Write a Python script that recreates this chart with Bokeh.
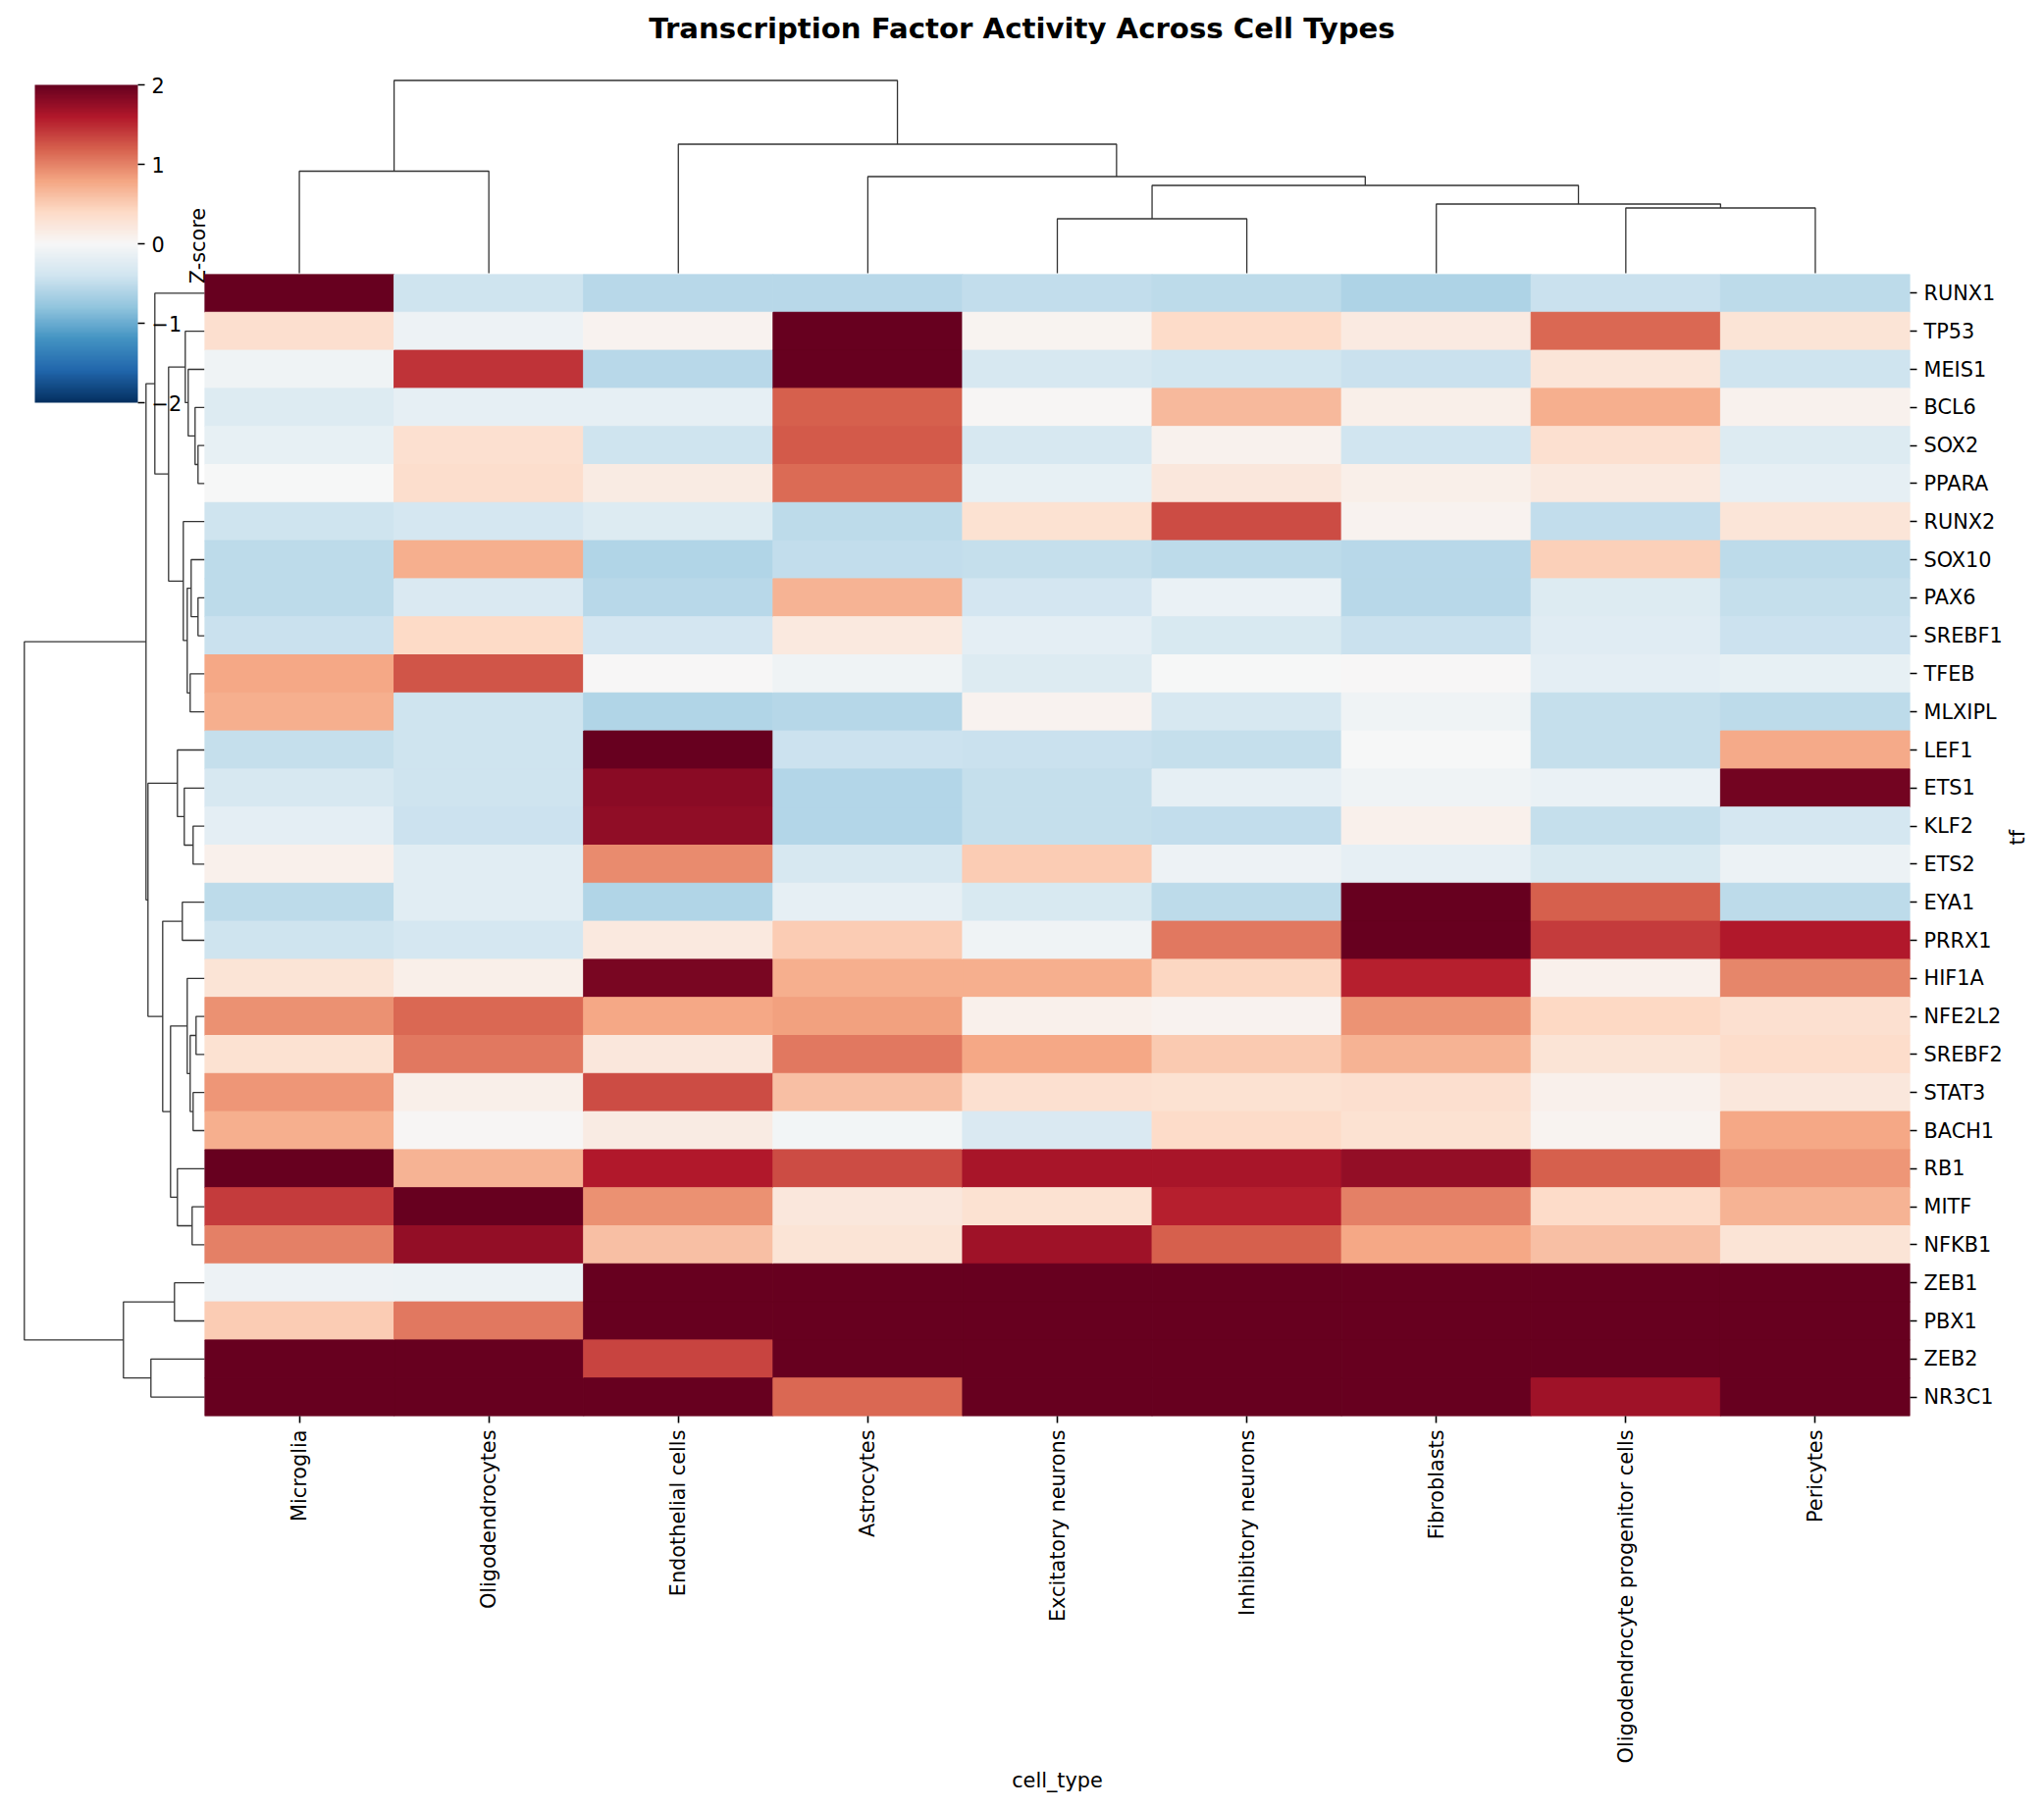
import math
import numpy as np
from bokeh.embed import file_html
from bokeh.resources import INLINE
from bokeh.plotting import figure
from bokeh.layouts import column
from bokeh.models import (ColumnDataSource, Range1d, FactorRange, FixedTicker, LinearColorMapper,
                          ColorBar, Label)
from bokeh.palettes import RdBu11
from bokeh.transform import transform

# ---------- data ----------
cell_types = ["Microglia", "Oligodendrocytes", "Endothelial cells", "Astrocytes", "Excitatory neurons",
              "Inhibitory neurons", "Fibroblasts", "Oligodendrocyte progenitor cells", "Pericytes"]
tfs = ["RUNX1", "TP53", "MEIS1", "BCL6", "SOX2", "PPARA", "RUNX2", "SOX10", "PAX6", "SREBF1", "TFEB", "MLXIPL",
       "LEF1", "ETS1", "KLF2", "ETS2", "EYA1", "PRRX1", "HIF1A", "NFE2L2", "SREBF2", "STAT3", "BACH1", "RB1",
       "MITF", "NFKB1", "ZEB1", "PBX1", "ZEB2", "NR3C1"]
microglia = [2.0, 0.33, -0.09, -0.27, -0.17, -0.01, -0.42, -0.53, -0.53, -0.45, 0.78, 0.72, -0.47, -0.33, -0.2, 0.1,
             -0.52, -0.42, 0.27, 0.92, 0.3, 0.88, 0.73, 2.0, 1.4, 1.0, -0.1, 0.5, 2.0, 2.0]
oligodendrocytes = [-0.42, -0.1, 1.45, -0.18, 0.32, 0.35, -0.35, 0.73, -0.3, 0.4, 1.25, -0.42, -0.42, -0.42, -0.43,
                    -0.22, -0.22, -0.35, 0.12, 1.15, 1.05, 0.12, 0.02, 0.7, 2.0, 1.75, -0.11, 1.05, 2.0, 2.0]
endothelial = [-0.55, 0.07, -0.55, -0.18, -0.42, 0.17, -0.28, -0.6, -0.55, -0.36, 0.0, -0.6, 2.0, 1.8, 1.77, 0.95,
               -0.6, 0.2, 1.9, 0.77, 0.22, 1.3, 0.17, 1.6, 0.92, 0.6, 2.0, 2.0, 1.35, 2.0]
astrocytes = [-0.55, 2.0, 2.0, 1.2, 1.22, 1.13, -0.53, -0.5, 0.7, 0.2, -0.08, -0.57, -0.43, -0.58, -0.58, -0.33,
              -0.18, 0.5, 0.72, 0.82, 1.05, 0.6, -0.05, 1.3, 0.22, 0.27, 2.0, 2.0, 2.0, 1.15]
excitatory = [-0.5, 0.06, -0.34, 0.03, -0.34, -0.16, 0.3, -0.48, -0.37, -0.2, -0.27, 0.07, -0.44, -0.48, -0.47, 0.5,
              -0.32, -0.08, 0.72, 0.1, 0.78, 0.32, -0.3, 1.65, 0.3, 1.7, 2.0, 2.0, 2.0, 2.0]
inhibitory = [-0.52, 0.38, -0.38, 0.65, 0.08, 0.22, 1.3, -0.52, -0.14, -0.32, -0.01, -0.34, -0.48, -0.18, -0.5, -0.1,
              -0.52, 1.05, 0.43, 0.07, 0.52, 0.3, 0.38, 1.65, 1.55, 1.2, 2.0, 2.0, 2.0, 2.0]
fibroblasts = [-0.62, 0.18, -0.45, 0.12, -0.4, 0.11, 0.07, -0.55, -0.55, -0.45, 0.01, -0.08, -0.01, -0.08, 0.1,
               -0.18, 2.0, 2.0, 1.55, 0.9, 0.7, 0.33, 0.3, 1.75, 1.0, 0.78, 2.0, 2.0, 2.0, 2.0]
opc = [-0.45, 1.15, 0.25, 0.72, 0.32, 0.2, -0.5, 0.47, -0.28, -0.25, -0.2, -0.47, -0.48, -0.14, -0.47, -0.32,
       1.2, 1.4, 0.1, 0.42, 0.27, 0.1, 0.06, 1.2, 0.38, 0.6, 2.0, 2.0, 2.0, 1.7]
pericytes = [-0.52, 0.28, -0.42, 0.08, -0.27, -0.18, 0.26, -0.53, -0.47, -0.43, -0.16, -0.52, 0.75, 1.93, -0.35, -0.11,
             -0.52, 1.6, 0.97, 0.32, 0.37, 0.22, 0.78, 0.88, 0.7, 0.27, 2.0, 2.0, 2.0, 2.0]
columns = [microglia, oligodendrocytes, endothelial, astrocytes, excitatory, inhibitory, fibroblasts, opc, pericytes]

# dendrogram links: (child, child, height); ids below the leaf count are leaves, others are earlier links
row_links = [(4, 5, 6.7), (8, 9, 6.7), (10, 11, 14.7), (14, 15, 11.7), (16, 17, 22.7), (19, 20, 8.7), (21, 22, 11.7),
             (24, 25, 12.7), (26, 27, 30.7), (28, 29, 54.7), (3, 30, 9.7), (2, 40, 16.7), (1, 41, 19.7), (7, 31, 13.7),
             (43, 32, 17.7), (6, 44, 21.7), (42, 45, 36.7), (0, 46, 50.7), (13, 33, 20.7), (12, 48, 27.7),
             (35, 36, 14.7), (18, 50, 17.7), (23, 37, 27.7), (51, 52, 34.7), (34, 53, 42.7), (49, 54, 57.7),
             (47, 55, 59.7), (38, 39, 82.7), (56, 57, 183.7)]
col_links = [(4, 5, 55.5), (7, 8, 66.5), (6, 10, 70.5), (9, 11, 89.5), (0, 1, 104.0), (3, 12, 98.5), (2, 14, 131.5),
             (13, 15, 196.5)]
colorbar_ticks = [-2, -1, 0, 1, 2]

# ---------- layout (page pixels of the reference) ----------
W, H = 2075, 1835
HM_L, HM_R, HM_T, HM_B = 208.0, 1946.0, 279.0, 1443.0
CB_L, CB_T, CB_W, CB_H = 35, 86, 105, 324
CB_PAD = 16
ROW_DENDRO_ZERO_PX, COL_DENDRO_ZERO_PX = 208.0, 278.0
FONT = "DejaVu Sans"
INK = "#000000"
LINK = "#333333"


def xr(v0, p0, v1, p1):
    m = (v1 - v0) / (p1 - p0)
    return Range1d(start=v0 - p0 * m, end=v0 + (W - p0) * m)


def yr(v0, p0, v1, p1):
    m = (v1 - v0) / (p1 - p0)
    return Range1d(start=v0 + (H - p0) * m, end=v0 - p0 * m)


def link_paths(links, n_leaves):
    pos, hgt = {i: i + 0.5 for i in range(n_leaves)}, {i: 0.0 for i in range(n_leaves)}
    along, across = [], []
    for k, (a, b, h) in enumerate(links):
        along.append([pos[a], pos[a], pos[b], pos[b]])
        across.append([hgt[a], h, h, hgt[b]])
        pos[n_leaves + k] = (pos[a] + pos[b]) / 2
        hgt[n_leaves + k] = h
    return along, across


# palette: matplotlib-style RdBu_r, interpolated from the 11 ColorBrewer anchors (blue first)
anchors = np.array([[int(c[i:i + 2], 16) for i in (1, 3, 5)] for c in RdBu11], dtype=float)
t = np.linspace(0, 10, 256)
palette = ["#%02x%02x%02x" % tuple(int(round(np.interp(v, np.arange(11), anchors[:, k]))) for k in range(3)) for v in t]
mapper = LinearColorMapper(palette=palette, low=-2, high=2)

# ---------- base canvas: dendrograms, title ----------
base = figure(frame_width=W, frame_height=H, output_backend="svg", toolbar_location=None,
              min_border_left=0, min_border_top=0, min_border_right=0, min_border_bottom=0,
              x_range=Range1d(0, W), y_range=Range1d(H, 0),
              styles={"position": "absolute", "left": "0px", "top": "0px"})
base.outline_line_color = None
base.xaxis.visible = False
base.yaxis.visible = False
base.grid.visible = False
base.extra_x_ranges = {
    "cols": xr(0, HM_L, len(cell_types), HM_R),
    "row_dendro": xr(0, ROW_DENDRO_ZERO_PX, 183.7, 24.3),
}
base.extra_y_ranges = {
    "rows": yr(0, HM_T, len(tfs), HM_B),
    "col_dendro": yr(0, COL_DENDRO_ZERO_PX, 196.5, 81.5),
}
col_x, col_y = link_paths(col_links, len(cell_types))
base.multi_line(col_x, col_y, x_range_name="cols", y_range_name="col_dendro", line_color=LINK, line_width=1.3)
row_y, row_x = link_paths(row_links, len(tfs))
base.multi_line(row_x, row_y, x_range_name="row_dendro", y_range_name="rows", line_color=LINK, line_width=1.3)

for txt, x, y, ang, size, style in [
    ("Transcription Factor Activity Across Cell Types", 1041, 28, 0, "29.2px", "bold"),
    ("Z-score", 201, 250, math.pi / 2, "20.8px", "normal"),
]:
    base.add_layout(Label(x=x, y=y, text=txt, angle=ang, text_align="center", text_baseline="middle",
                          text_font=FONT, text_font_size=size, text_font_style=style, text_color=INK))

# ---------- colour bar in its own small figure ----------
cbfig = figure(frame_width=1, frame_height=CB_H, output_backend="svg", toolbar_location=None,
               min_border_left=0, min_border_top=CB_PAD, min_border_right=0, min_border_bottom=CB_PAD,
               x_range=Range1d(0, 1), y_range=Range1d(-2, 2),
               styles={"position": "absolute", "left": f"{CB_L - 1}px", "top": f"{CB_T - CB_PAD}px"})
cbfig.outline_line_color = None
cbfig.xaxis.visible = False
cbfig.yaxis.visible = False
cbfig.grid.visible = False
cbfig.background_fill_alpha = 0
cbfig.border_fill_alpha = 0
cb = ColorBar(color_mapper=mapper, ticker=FixedTicker(ticks=colorbar_ticks), location=(0, 0),
              width=CB_W, height=CB_H, padding=0, margin=0,
              major_label_overrides={v: str(v).replace("-", "\u2212") for v in colorbar_ticks},
              major_label_text_font=FONT, major_label_text_font_size="20.8px", major_label_text_color=INK,
              major_tick_in=0, major_tick_out=7, major_tick_line_color=INK, major_tick_line_width=1.6,
              minor_tick_line_color=None, bar_line_color=None, border_line_color=None, background_fill_alpha=0,
              label_standoff=7)
cbfig.add_layout(cb, "right")

# ---------- heat map with its axes, laid over the base canvas ----------
heat = figure(frame_width=int(HM_R - HM_L), frame_height=int(HM_B - HM_T), output_backend="svg", toolbar_location=None,
              x_range=FactorRange(factors=cell_types), y_range=FactorRange(factors=list(reversed(tfs))),
              x_axis_location="below", y_axis_location="right",
              min_border_left=0, min_border_top=0, min_border_right=0, min_border_bottom=0,
              styles={"position": "absolute", "left": f"{HM_L}px", "top": f"{HM_T}px"})
heat.outline_line_color = None
heat.grid.visible = False
heat.background_fill_alpha = 0
heat.border_fill_alpha = 0
cells = {"x": [], "y": [], "value": []}
for ci, col in enumerate(columns):
    for ri, v in enumerate(col):
        cells["x"].append(cell_types[ci])
        cells["y"].append(tfs[ri])
        cells["value"].append(v)
heat.rect("x", "y", width=1, height=1, source=ColumnDataSource(cells),
          fill_color=transform("value", mapper), line_color=transform("value", mapper), line_width=1)
for ax, label, standoff in [(heat.xaxis[0], "cell_type", 3), (heat.yaxis[0], "tf", 12)]:
    ax.axis_label = label
    ax.axis_label_text_font = FONT
    ax.axis_label_text_font_size = "20.8px"
    ax.axis_label_text_font_style = "normal"
    ax.axis_label_text_color = INK
    ax.axis_label_standoff = standoff
    ax.major_label_text_font = FONT
    ax.major_label_text_font_size = "20.8px"
    ax.major_label_text_color = INK
    ax.major_tick_in = 0
    ax.major_tick_out = 7
    ax.major_tick_line_width = 1.6
    ax.major_tick_line_color = INK
    ax.minor_tick_line_color = None
    ax.axis_line_color = None
    ax.major_label_standoff = 7
heat.xaxis[0].major_label_orientation = math.pi / 2
heat.yaxis[0].axis_label_orientation = math.pi / 2

page = column(base, heat, cbfig, width=W, height=H)
open("out.html", "w").write(file_html(page, INLINE))
